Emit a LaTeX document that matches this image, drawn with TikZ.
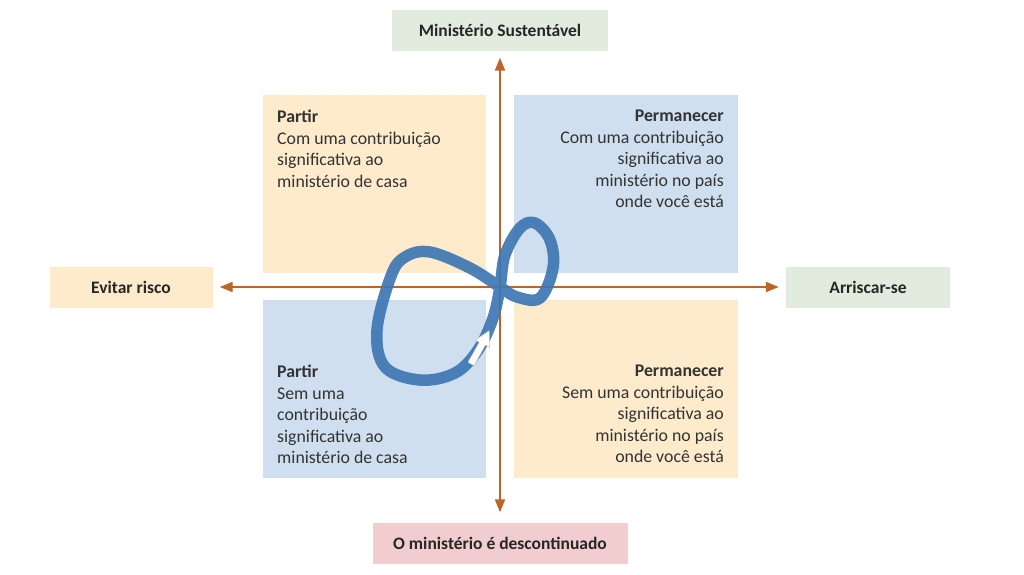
\documentclass[tikz,border=0pt]{standalone}
\usepackage{fontspec}
\setmainfont{Carlito}
\usetikzlibrary{arrows.meta}

\definecolor{laranja}{HTML}{FDEBCB}
\definecolor{azul}{HTML}{CFDFEF}
\definecolor{verde}{HTML}{E1ECDF}
\definecolor{rosa}{HTML}{F2CDD0}
\definecolor{eixo}{HTML}{BE6428}
\definecolor{laco}{HTML}{3E76B3}

\begin{document}
\begin{tikzpicture}[x=1pt,y=-1pt,
        rotulo/.style = {font=\fontsize{17.5}{20}\selectfont\bfseries,
            text=black!85, minimum height=41pt, inner sep=0pt},
        quad/.style = {font=\fontsize{17.8}{21.5}\selectfont,
            text=black!80, inner sep=0pt},
        eixo/.style = {draw=eixo, line width=2pt,
            -{Triangle[length=13pt,width=10pt]}, shorten >=7pt}]
    \useasboundingbox (0,0) rectangle (1024,574);
    % quadrantes
    \fill[laranja] (263,95) rectangle (486,273);
    \fill[azul] (514,95) rectangle (738,273);
    \fill[azul] (263,300) rectangle (486,478);
    \fill[laranja] (514,300) rectangle (738,478);

    \node[quad, anchor=north west, align=left] (pc) at (277,110)
        {\textbf{Partir}\\Com uma contribuição\\significativa ao\\ministério de casa};
    \node[quad, anchor=north east, align=right] (mc) at (724,110)
        {\textbf{Permanecer}\\Com uma contribuição\\significativa ao\\ministério no país\\onde você está};
    \node[quad, anchor=north west, align=left] (ps) at (277,365)
        {\textbf{Partir}\\Sem uma\\contribuição\\significativa ao\\ministério de casa};
    \node[quad, anchor=north east, align=right] (ms) at (724,365)
        {\textbf{Permanecer}\\Sem uma contribuição\\significativa ao\\ministério no país\\onde você está};

    % rotulos dos eixos
    \node[rotulo, fill=verde, minimum width=216pt] (sust) at (500,30) {Ministério Sustentável};
    \node[rotulo, fill=laranja, minimum width=163pt] (risco) at (131,287) {Evitar risco};
    \node[rotulo, fill=verde, minimum width=164pt] (arrisca) at (868,287) {Arriscar-se};
    \node[rotulo, fill=rosa, minimum width=255pt] (desc) at (500,543) {O ministério é descontinuado};

    \coordinate (c) at (500,287);
    \draw[eixo] (c) -- (sust);
    \draw[eixo] (c) -- (risco);
    \draw[eixo] (c) -- (arrisca);
    \draw[eixo, shorten >=10pt] (c) -- (desc);

    % laco
    \draw[laco, line width=11.5pt, opacity=0.92, line join=round]
        plot[smooth cycle, tension=0.6] coordinates {(500,287) (505,255)
            (520,228) (535,223) (550,240) (553,268) (540,298) (517,297)
            (500,287) (470,268) (430,252) (405,257) (391,276) (377,330)
            (385,367) (420,380) (455,373) (478,350) (493,318)};
    % seta branca
    \filldraw[fill=white, draw=gray!50, line width=0.5pt, line join=round]
        (467.9,362.3) -- (474.1,365.7) -- (485.3,345.2) -- (489.5,347.5)
        -- (489.2,330.6) -- (475.3,340.0) -- (479.2,342.3) -- cycle;
\end{tikzpicture}
\end{document}
